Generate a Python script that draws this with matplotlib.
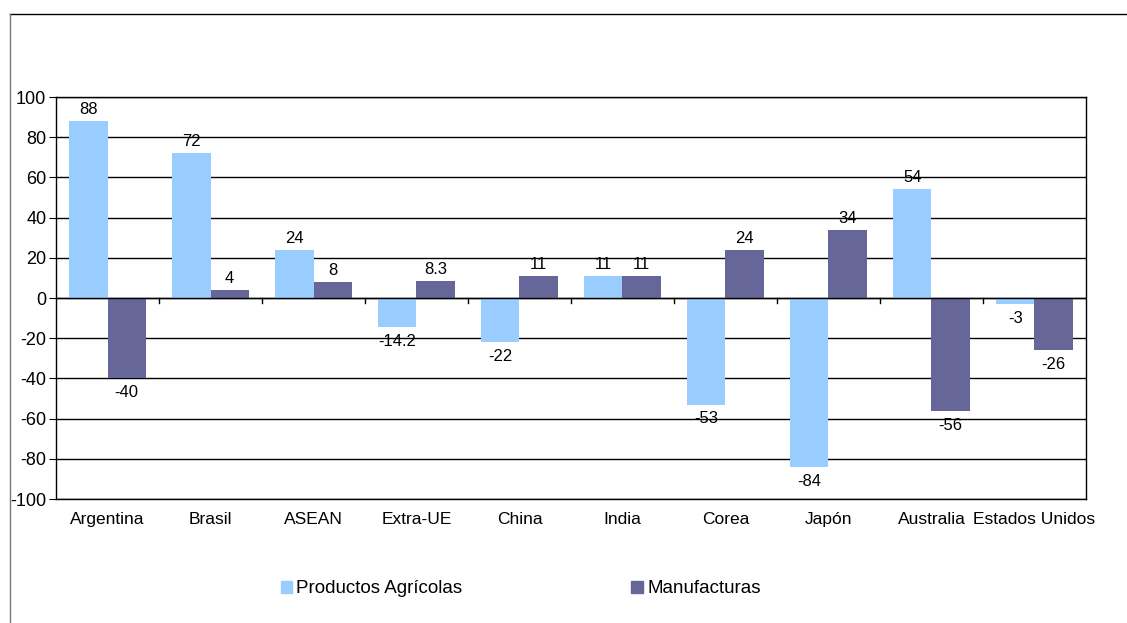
import numpy as np
import matplotlib.pyplot as plt
from matplotlib.lines import Line2D
from matplotlib.patches import Patch

plt.rcParams['font.family'] = ['Liberation Sans', 'DejaVu Sans']
plt.rcParams['axes.unicode_minus'] = False

paises = ['Argentina', 'Brasil', 'ASEAN', 'Extra-UE', 'China', 'India',
          'Corea', 'Japón', 'Australia', 'Estados Unidos']
agricolas = [88, 72, 24, -14.2, -22, 11, -53, -84, 54, -3]
manufacturas = [-40, 4, 8, 8.3, 11, 11, 24, 34, -56, -26]
etq_agr = ['88', '72', '24', '-14.2', '-22', '11', '-53', '-84', '54', '-3']
etq_man = ['-40', '4', '8', '8.3', '11', '11', '24', '34', '-56', '-26']

azul = '#99CCFF'
morado = '#666699'

fig = plt.figure(figsize=(11.27, 6.23), dpi=100)
ax = fig.add_axes([0.0497, 0.199, 0.9139, 0.6453])

x = np.arange(len(paises))
w = 0.37
b1 = ax.bar(x - w/2, agricolas, w, color=azul, zorder=3)
b2 = ax.bar(x + w/2, manufacturas, w, color=morado, zorder=3)

def etiquetar(barras, vals, textos):
    for r, v, t in zip(barras, vals, textos):
        cx = r.get_x() + r.get_width()/2
        if v >= 0:
            ax.annotate(t, (cx, v), xytext=(0, 3), textcoords='offset points',
                        ha='center', va='bottom', fontsize=12)
        else:
            ax.annotate(t, (cx, v), xytext=(0, -5), textcoords='offset points',
                        ha='center', va='top', fontsize=12)

etiquetar(b1, agricolas, etq_agr)
etiquetar(b2, manufacturas, etq_man)

ax.set_xlim(-0.5, len(paises) - 0.5)
ax.set_ylim(-100, 100)
ax.set_yticks(np.arange(-100, 101, 20))
ax.yaxis.grid(True, color='black', linewidth=1, zorder=1)
ax.set_axisbelow(True)
ax.set_xticks(x)
ax.set_xticklabels(paises, fontsize=12.5)
ax.tick_params(axis='x', length=0, pad=9)
ax.tick_params(axis='y', labelsize=13, length=5, direction='out', pad=2)

# linea del cero y marcas entre categorias
ax.axhline(0, color='black', linewidth=1, zorder=4)
for b in np.arange(0.5, len(paises) - 1, 1):
    ax.plot([b, b], [0, -2.5], color='black', linewidth=1, zorder=4)

for s in ax.spines.values():
    s.set_color('black')
    s.set_linewidth(1)

handles = [Patch(color=azul), Patch(color=morado)]
fig.legend(handles, ['Productos Agrícolas', 'Manufacturas'], ncol=2,
           loc='center', bbox_to_anchor=(0.462, 0.055), frameon=False,
           fontsize=13.5, handlelength=0.6, handleheight=0.6, handletextpad=0.25,
           columnspacing=9)

# marco exterior
fig.add_artist(Line2D([10/1127, 1], [1 - 14/623, 1 - 14/623], color='black', linewidth=1))
fig.add_artist(Line2D([10/1127, 10/1127], [0, 1 - 14/623], color='#777777', linewidth=1))

fig.savefig('out.png', dpi=100)
